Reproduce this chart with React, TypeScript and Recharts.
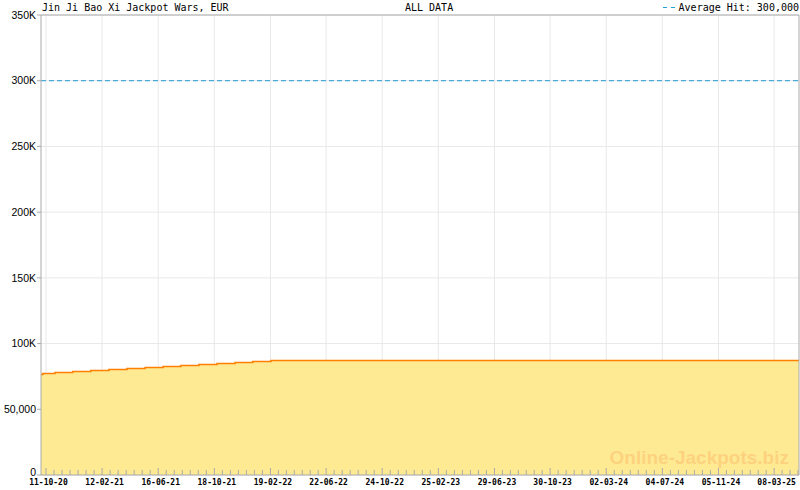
import {
  AreaChart,
  Area,
  XAxis,
  YAxis,
  CartesianGrid,
  ReferenceLine,
} from "recharts";

// jackpot level steps (date the level started, EUR)
const stepDates = [
  "2020-09-30",
  "2020-10-04",
  "2020-10-31",
  "2020-12-09",
  "2021-01-18",
  "2021-02-27",
  "2021-04-08",
  "2021-05-18",
  "2021-06-27",
  "2021-08-05",
  "2021-09-14",
  "2021-10-24",
  "2021-12-03",
  "2022-01-11",
  "2022-02-20",
  "2025-05-02",
];
const jackpotValues = [
  76500, 77250, 78000, 78800, 79550, 80300, 81050, 81850, 82600, 83350, 84100,
  84900, 85650, 86400, 87200, 87200,
];

const xStart = "2020-09-30";
const xEnd = "2025-05-02";
const xTickDates = [
  "2020-10-11",
  "2021-02-12",
  "2021-06-16",
  "2021-10-18",
  "2022-02-19",
  "2022-06-22",
  "2022-10-24",
  "2023-02-25",
  "2023-06-29",
  "2023-10-30",
  "2024-03-02",
  "2024-07-04",
  "2024-11-05",
  "2025-03-08",
];
const yTicks = [0, 50000, 100000, 150000, 200000, 250000, 300000, 350000];
const yTickLabels = ["0", "50,000", "100K", "150K", "200K", "250K", "300K", "350K"];
const averageHit = 300000;

const GRID = "#e8e8e8";
const AXIS = "#aaaaaa";
const BLUE = "#219ed4";
const MONO = "'DejaVu Sans Mono', monospace";

const toTime = (d: string) => Date.parse(d);
const fmtDate = (t: number) => {
  const d = new Date(t);
  const p = (n: number) => String(n).padStart(2, "0");
  return `${p(d.getUTCDate())}-${p(d.getUTCMonth() + 1)}-${p(d.getUTCFullYear() % 100)}`;
};

const data = stepDates.map((d, i) => ({ t: toTime(d), value: jackpotValues[i] }));
const majorTicks = xTickDates.map(toTime);
const majorSet = new Set(majorTicks);

// 7 small ticks per labelled interval, carried on past the last label
const allTicks: number[] = [];
majorTicks.forEach((m, i) => {
  const next = majorTicks[i + 1] ?? m + (m - majorTicks[i - 1]);
  for (let k = 0; k < 7; k++) {
    const v = m + ((next - m) * k) / 7;
    if (v < toTime(xEnd)) allTicks.push(v);
  }
});

function DateTick({ x, y, payload }: any) {
  const major = majorSet.has(payload.value);
  return (
    <g>
      <line x1={x} x2={x} y1={y} y2={y - (major ? 7 : 5)} stroke={AXIS} />
      {major && (
        <text
          x={x + 2.5}
          y={y + 9.5}
          textAnchor="middle"
          fontFamily={MONO}
          fontWeight="bold"
          fontSize={8}
          fill="#000"
        >
          {fmtDate(payload.value)}
        </text>
      )}
    </g>
  );
}

function ValueTick({ x, y, payload }: any) {
  // the zero label sits a little above the axis
  const shift = payload.value === 0 ? -3 : 0;
  return (
    <text
      x={x}
      y={y + shift}
      dy="0.355em"
      textAnchor="end"
      fontFamily="'Liberation Sans', Arial"
      fontSize={10.5}
      fill="#000"
    >
      {yTickLabels[yTicks.indexOf(payload.value)]}
    </text>
  );
}

export default function App() {
  return (
    <div style={{ position: "absolute", left: 0, top: 0, width: 800, height: 490 }}>
      <AreaChart
        width={800}
        height={490}
        data={data}
        margin={{ top: 15, right: 1, left: 0, bottom: 0 }}
      >
        <CartesianGrid
          stroke={GRID}
          verticalValues={majorTicks}
          horizontalValues={yTicks}
        />
        <XAxis
          dataKey="t"
          type="number"
          domain={[toTime(xStart), toTime(xEnd)]}
          allowDataOverflow
          ticks={allTicks}
          interval={0}
          height={15}
          tickSize={0}
          tickMargin={0}
          tick={<DateTick />}
          axisLine={{ stroke: AXIS }}
        />
        <YAxis
          width={41}
          domain={[0, 350000]}
          ticks={yTicks}
          interval={0}
          tickSize={4}
          tickMargin={1}
          tickLine={{ stroke: AXIS }}
          axisLine={{ stroke: AXIS }}
          tick={<ValueTick />}
        />
        <Area
          dataKey="value"
          type="stepAfter"
          stroke="#ff8000"
          strokeWidth={1.5}
          fill="#ffea94"
          fillOpacity={1}
          dot={false}
          activeDot={false}
          isAnimationActive={false}
        />
        <ReferenceLine y={averageHit} stroke={BLUE} strokeDasharray="5 3" />
        <ReferenceLine y={350000} stroke={AXIS} />
        <ReferenceLine x={toTime(xEnd)} stroke={AXIS} />
      </AreaChart>
      <svg
        width={800}
        height={490}
        style={{ position: "absolute", left: 0, top: 0, pointerEvents: "none" }}
      >
        <text x={42} y={11} fontFamily={MONO} fontSize={10} fill="#000">
          Jin Ji Bao Xi Jackpot Wars, EUR
        </text>
        <text x={405} y={11} fontFamily={MONO} fontSize={10} fill="#000">
          ALL DATA
        </text>
        <line x1={663} x2={667} y1={7.5} y2={7.5} stroke={BLUE} />
        <line x1={671} x2={675} y1={7.5} y2={7.5} stroke={BLUE} />
        <text x={799} y={11} textAnchor="end" fontFamily={MONO} fontSize={10} fill="#000">
          Average Hit: 300,000
        </text>
        <text
          x={789}
          y={464}
          textAnchor="end"
          fontFamily="'Liberation Sans', Arial"
          fontWeight="bold"
          fontSize={19}
          fill="#fdd27e"
        >
          Online-Jackpots.biz
        </text>
      </svg>
    </div>
  );
}
